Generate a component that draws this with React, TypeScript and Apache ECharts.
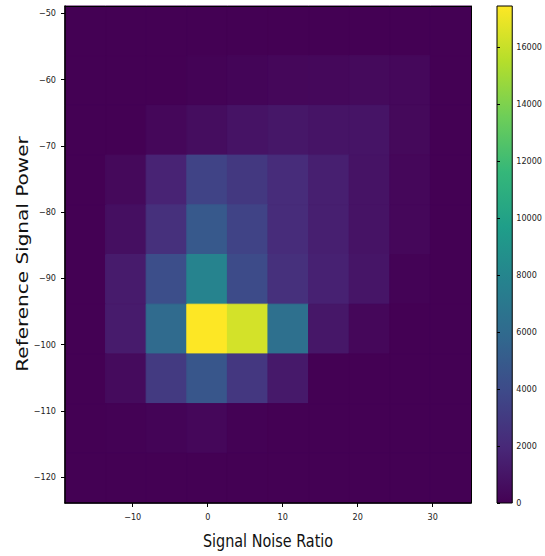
import React, { useEffect, useRef } from "react";
import * as echarts from "echarts";

// Bin edges (SNR on x, RSRP on y, y listed top -> bottom)
const xEdges = [-19.03, -13.62, -8.21, -2.79, 2.62, 8.03, 13.44, 18.86, 24.27, 29.68, 35.1];
const yEdges = [-48.9, -56.4, -63.9, -71.4, -78.9, -86.4, -93.9, -101.4, -108.9, -116.4, -123.9];

// Counts per cell, rows top -> bottom, columns left -> right
const counts = [
  [0, 0, 0, 0, 0, 0, 0, 0, 0, 0],
  [0, 0, 0, 100, 200, 300, 350, 450, 350, 0],
  [0, 0, 300, 600, 900, 1100, 950, 950, 400, 0],
  [0, 400, 1700, 3500, 2900, 2200, 1500, 900, 300, 0],
  [0, 700, 2400, 4900, 3500, 2200, 1500, 900, 300, 0],
  [0, 1300, 4200, 7800, 4000, 2400, 1600, 1000, 100, 0],
  [0, 1300, 6000, 17430, 16300, 6400, 1100, 300, 0, 0],
  [0, 500, 3000, 4700, 2800, 1200, 0, 0, 0, 0],
  [0, 50, 150, 300, 50, 0, 0, 0, 0, 0],
  [0, 0, 0, 0, 0, 0, 0, 0, 0, 0],
];

const xTicks = [-10, 0, 10, 20, 30];
const yTicks = [-120, -110, -100, -90, -80, -70, -60, -50];
const cbarTicks = [0, 2000, 4000, 6000, 8000, 10000, 12000, 14000, 16000];
const cbarMax = 17430;

const viridis = ["#440154", "#482878", "#3e4989", "#31688e", "#26828e", "#1f9e89", "#35b779", "#6ece58", "#b5de2b", "#fde725"];

const tickFont = "'DejaVu Sans Condensed', 'Liberation Sans Narrow', 'DejaVu Sans', sans-serif";
const fmt = (v: number) => String(v).replace("-", "\u2212");

export default function App() {
  const ref = useRef<HTMLDivElement>(null);
  useEffect(() => {
    if (!ref.current) return;
    const chart = echarts.init(ref.current, undefined, { renderer: "svg" });

    const cells: number[][] = [];
    counts.forEach((row, r) => {
      row.forEach((v, c) => {
        cells.push([xEdges[c], xEdges[c + 1], yEdges[r + 1], yEdges[r], v]);
      });
    });

    const stops = viridis.map((color, i) => ({ offset: i / (viridis.length - 1), color }));

    const xMin = xEdges[0];
    const xMax = xEdges[xEdges.length - 1];
    const yMin = yEdges[yEdges.length - 1];
    const yMax = yEdges[0];

    const lbl = { fontSize: 9, color: "#222", fontFamily: tickFont };

    chart.setOption({
      animation: false,
      backgroundColor: "#fff",
      grid: [
        { left: 65, top: 6, width: 406, height: 497, show: true, backgroundColor: viridis[0], borderWidth: 0 },
        { left: 497, top: 6, width: 17, height: 497 },
      ],
      xAxis: [
        {
          type: "value", gridIndex: 0, min: xMin, max: xMax, position: "bottom", z: 5,
          splitLine: { show: false },
          axisLine: { show: true, onZero: false, lineStyle: { color: "#000", width: 1.5 } },
          axisTick: { show: true, customValues: xTicks, length: 4, lineStyle: { color: "#000" } },
          axisLabel: { ...lbl, customValues: xTicks, margin: 9, formatter: fmt },
        },
        {
          type: "value", gridIndex: 0, min: xMin, max: xMax, position: "top", z: 5,
          splitLine: { show: false },
          axisLine: { show: true, onZero: false, lineStyle: { color: "#000", width: 1 } },
          axisTick: { show: false },
          axisLabel: { show: false },
        },
        { type: "value", gridIndex: 1, min: 0, max: 1, show: false },
      ],
      yAxis: [
        {
          type: "value", gridIndex: 0, min: yMin, max: yMax, position: "left", z: 5,
          splitLine: { show: false },
          axisLine: { show: true, onZero: false, lineStyle: { color: "#000", width: 1.5 } },
          axisTick: { show: true, customValues: yTicks, length: 4, lineStyle: { color: "#000" } },
          axisLabel: { ...lbl, customValues: yTicks, margin: 9, formatter: fmt },
        },
        {
          type: "value", gridIndex: 0, min: yMin, max: yMax, position: "right", z: 5,
          splitLine: { show: false },
          axisLine: { show: true, onZero: false, lineStyle: { color: "#000", width: 1 } },
          axisTick: { show: false },
          axisLabel: { show: false },
        },
        {
          type: "value", gridIndex: 1, min: 0, max: cbarMax, position: "right", z: 5,
          splitLine: { show: false },
          axisLine: { show: false },
          axisTick: { show: true, customValues: cbarTicks, length: 3, lineStyle: { color: "#000" } },
          axisLabel: { ...lbl, customValues: cbarTicks, margin: 4, formatter: fmt },
        },
      ],
      visualMap: {
        type: "continuous", show: false, min: 0, max: cbarMax, dimension: 4, seriesIndex: 0,
        inRange: { color: viridis },
      },
      series: [
        {
          type: "custom",
          xAxisIndex: 0,
          yAxisIndex: 0,
          encode: { x: [0, 1], y: [2, 3] },
          data: cells,
          renderItem: (params: any, api: any) => {
            const p0 = api.coord([api.value(0), api.value(3)]);
            const p1 = api.coord([api.value(1), api.value(2)]);
            const color = api.visual("color");
            return {
              type: "rect",
              shape: { x: p0[0], y: p0[1], width: p1[0] - p0[0], height: p1[1] - p0[1] },
              style: { fill: color, stroke: color, lineWidth: 1 },
            };
          },
        },
        {
          type: "custom",
          xAxisIndex: 2,
          yAxisIndex: 2,
          encode: { x: [0, 1], y: [2, 3] },
          data: [[0, 1, 0, cbarMax]],
          renderItem: (params: any, api: any) => {
            const p0 = api.coord([api.value(0), api.value(3)]);
            const p1 = api.coord([api.value(1), api.value(2)]);
            return {
              type: "rect",
              shape: { x: p0[0], y: p0[1], width: p1[0] - p0[0], height: p1[1] - p0[1] },
              style: {
                fill: new echarts.graphic.LinearGradient(0, 1, 0, 0, stops),
                stroke: "#000",
                lineWidth: 1,
              },
            };
          },
        },
      ],
      graphic: [
        {
          type: "text",
          x: 268,
          y: 541,
          scaleX: 0.8,
          style: {
            text: "Signal Noise Ratio",
            fontSize: 18,
            fontFamily: "'DejaVu Sans', sans-serif",
            fill: "#111",
            align: "center",
            verticalAlign: "middle",
          },
        },
        {
          type: "text",
          x: 22,
          y: 254,
          rotation: Math.PI / 2,
          scaleX: 1.25,
          style: {
            text: "Reference Signal Power",
            fontSize: 16,
            fontFamily: "'DejaVu Sans', sans-serif",
            fill: "#111",
            align: "center",
            verticalAlign: "middle",
          },
        },
      ],
    });
    return () => chart.dispose();
  }, []);
  return (
    <div
      ref={ref}
      style={{ position: "fixed", left: 0, top: 0, width: 545, height: 556 }}
    />
  );
}
